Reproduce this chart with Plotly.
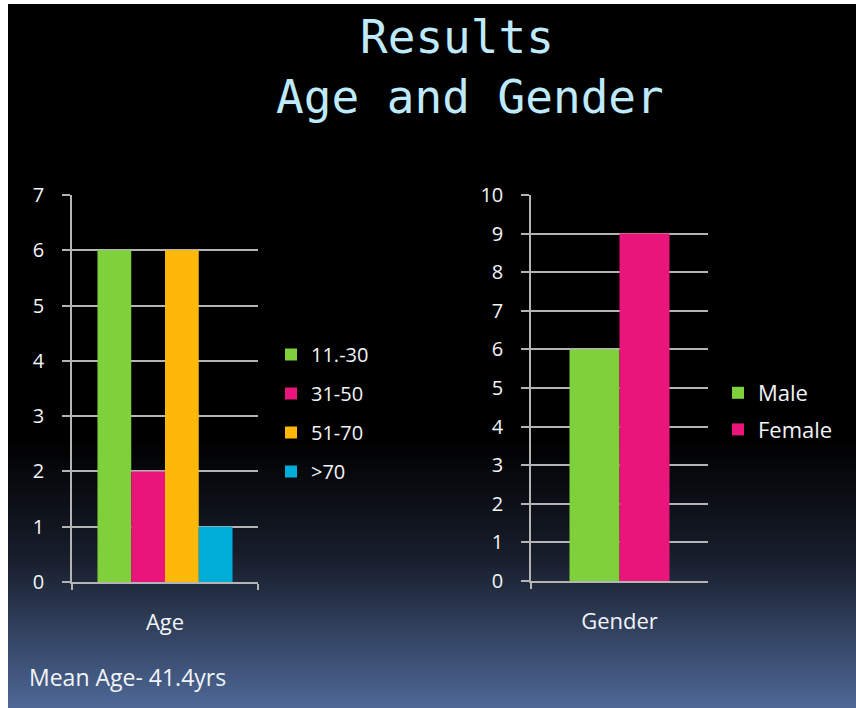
import plotly.graph_objects as go

# ---- data ----
age_groups = ["11.-30", "31-50", "51-70", ">70"]
age_counts = [6, 2, 6, 1]
age_colors = ["#7fd13b", "#ea157a", "#feb80a", "#00add8"]

genders = ["Male", "Female"]
gender_counts = [6, 9]
gender_colors = ["#7fd13b", "#ea157a"]

title_lines = ["Results", "Age and Gender"]
note_text = "Mean Age- 41.4yrs"

W, H = 856, 708
FONT = "'Open Sans', Lato, sans-serif"
TXT = "#f2f4f8"
GRID = "#b4b4b4"

fig = go.Figure()

# Age chart bars (explicit group placement)
grp_w1 = 0.726
bw1 = grp_w1 / len(age_groups)
for i, (g, v, c) in enumerate(zip(age_groups, age_counts, age_colors)):
    fig.add_trace(go.Bar(
        x=["Age"], y=[v], name=g, marker=dict(color=c, line=dict(width=0)),
        width=bw1, offset=-grp_w1 / 2 + i * bw1,
        xaxis="x", yaxis="y", legend="legend", legendgroup=g,
        hoverinfo="skip"))

grp_w2 = 0.565
bw2 = grp_w2 / len(genders)
for i, (g, v, c) in enumerate(zip(genders, gender_counts, gender_colors)):
    fig.add_trace(go.Bar(
        x=["Gender"], y=[v], name=g, marker=dict(color=c, line=dict(width=0)),
        width=bw2, offset=-grp_w2 / 2 + i * bw2,
        xaxis="x2", yaxis="y2", legend="legend2", legendgroup=g,
        hoverinfo="skip"))

def px_x(v):
    return v / W

def px_y(v):
    return 1 - v / H

# background gradient (slide) built from overlapping bands
def lerp(a, b, t):
    return tuple(int(round(a[k] + (b[k] - a[k]) * t)) for k in range(3))

stops = [(4, (0, 0, 0)), (440, (0, 0, 0)), (560, (24, 30, 44)), (708, (78, 104, 150))]
shapes = [dict(type="rect", xref="paper", yref="paper", layer="below",
               x0=px_x(8), x1=1, y0=0, y1=px_y(4),
               fillcolor="black", line=dict(width=0))]
band = 3
y = 440
while y < H:
    ym = y + band / 2
    col = stops[-1][1]
    for (ya, ca), (yb, cb) in zip(stops[:-1], stops[1:]):
        if ya <= ym <= yb:
            col = lerp(ca, cb, (ym - ya) / (yb - ya))
            break
    shapes.append(dict(type="rect", xref="paper", yref="paper", layer="below",
                       x0=px_x(8), x1=1, y0=0, y1=px_y(y),
                       fillcolor="rgb(%d,%d,%d)" % col, line=dict(width=0)))
    y += band

axis_common = dict(showline=True, linecolor=GRID, linewidth=1.5, automargin=False)

fig.update_layout(
    width=W, height=H,
    margin=dict(l=0, r=0, t=0, b=0, pad=0),
    paper_bgcolor="white", plot_bgcolor="rgba(0,0,0,0)",
    barmode="overlay",
    showlegend=True,
    shapes=shapes,
    xaxis=dict(domain=[px_x(72), px_x(258)], anchor="y", type="category",
               ticks="outside", ticklen=6, tickcolor=GRID, tickwidth=1.5,
               tickson="boundaries", ticklabelstandoff=20,
               tickfont=dict(family=FONT, size=22, color=TXT),
               range=[-0.5, 0.5], **axis_common),
    yaxis=dict(domain=[px_y(582), px_y(195)], anchor="x", range=[0, 7], dtick=1,
               ticks="outside", ticklen=8, tickcolor=GRID, tickwidth=1.5,
               showgrid=True, gridcolor=GRID, gridwidth=1.5, zeroline=False,
               ticklabelstandoff=14,
               tickfont=dict(family=FONT, size=20, color=TXT), **axis_common),
    xaxis2=dict(domain=[px_x(531), px_x(708)], anchor="y2", type="category",
                ticks="outside", ticklen=6, tickcolor=GRID, tickwidth=1.5,
                tickson="boundaries", ticklabelstandoff=20,
                tickfont=dict(family=FONT, size=22, color=TXT),
                range=[-0.5, 0.5], **axis_common),
    yaxis2=dict(domain=[px_y(581), px_y(195)], anchor="x2", range=[0, 10], dtick=1,
                ticks="outside", ticklen=8, tickcolor=GRID, tickwidth=1.5,
                showgrid=True, gridcolor=GRID, gridwidth=1.5, zeroline=False,
                ticklabelstandoff=14,
                tickfont=dict(family=FONT, size=20, color=TXT), **axis_common),
    legend=dict(x=px_x(271), y=px_y(335), xanchor="left", yanchor="top",
                bgcolor="rgba(0,0,0,0)", tracegroupgap=10,
                font=dict(family=FONT, size=20, color=TXT)),
    legend2=dict(x=px_x(718), y=px_y(372), xanchor="left", yanchor="top",
                 bgcolor="rgba(0,0,0,0)", tracegroupgap=5,
                 font=dict(family=FONT, size=22, color=TXT)),
    annotations=[
        dict(text=title_lines[0], x=px_x(457), y=px_y(37), xref="paper", yref="paper",
             showarrow=False, xanchor="center", yanchor="middle",
             font=dict(family="DejaVu Sans Mono, monospace", size=46, color="#bfeafb")),
        dict(text=title_lines[1], x=px_x(470), y=px_y(97), xref="paper", yref="paper",
             showarrow=False, xanchor="center", yanchor="middle",
             font=dict(family="DejaVu Sans Mono, monospace", size=46, color="#bfeafb")),
        dict(text=note_text, x=px_x(27), y=px_y(677), xref="paper", yref="paper",
             showarrow=False, xanchor="left", yanchor="middle",
             font=dict(family=FONT, size=23, color=TXT)),
    ],
)

fig.write_html("out.html")
